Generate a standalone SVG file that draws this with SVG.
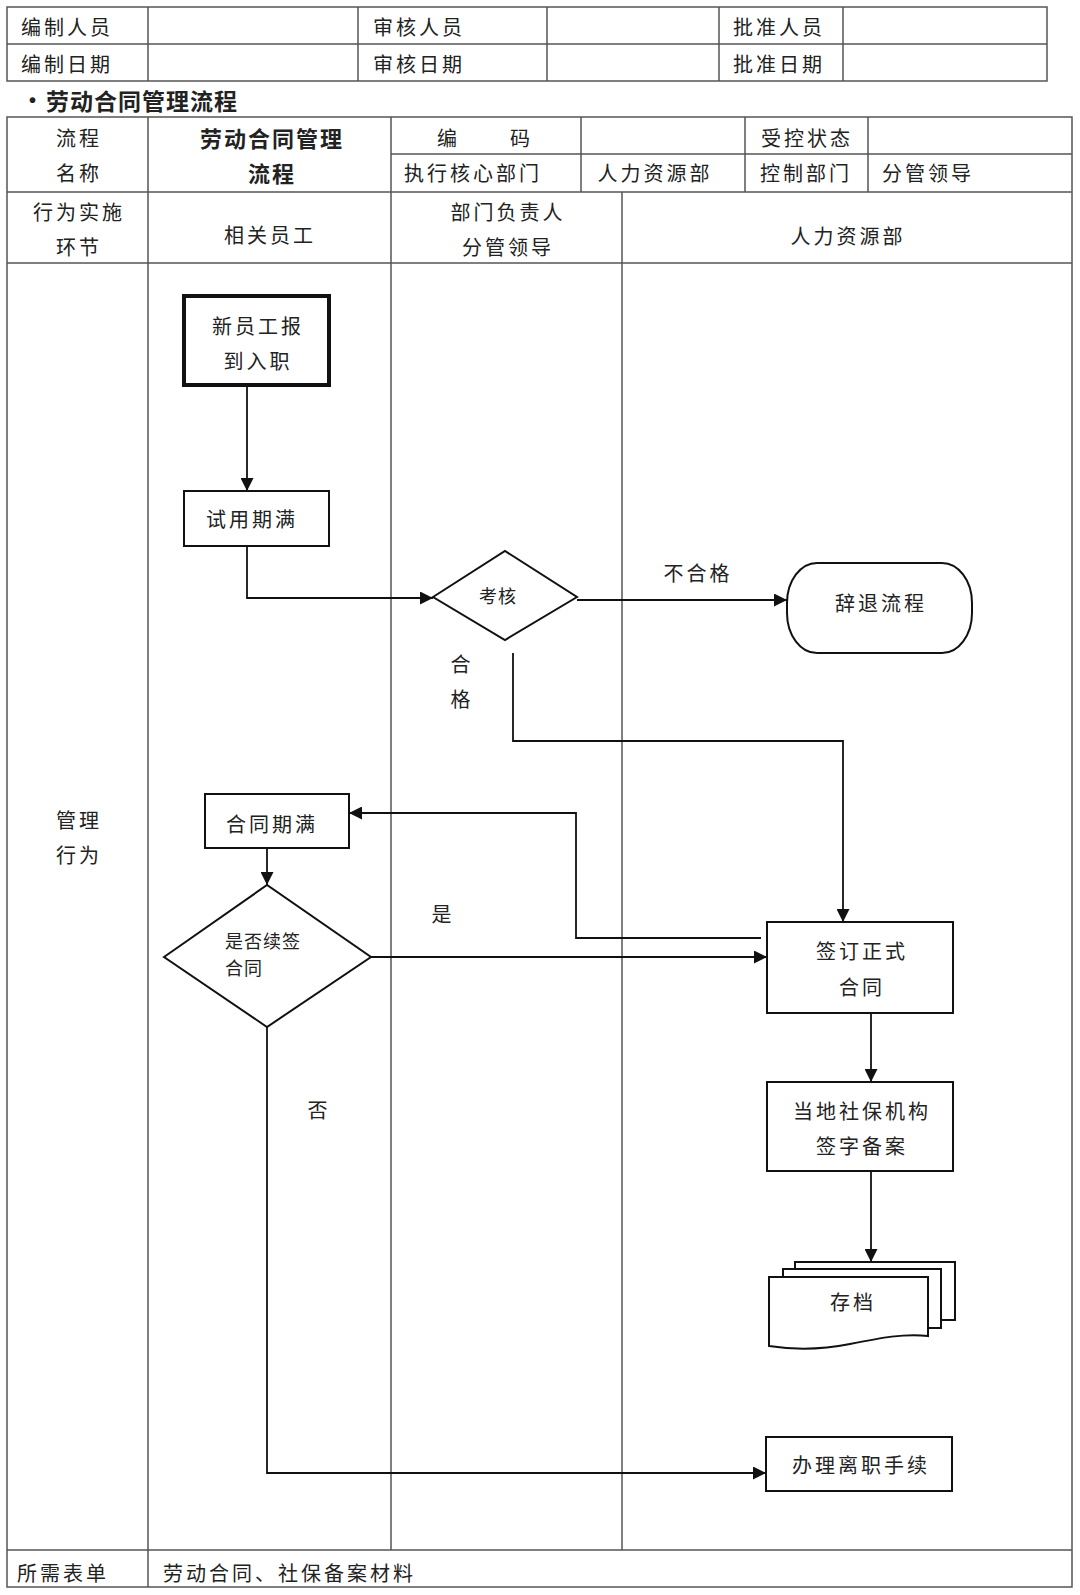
<svg xmlns="http://www.w3.org/2000/svg" width="1080" height="1595" viewBox="0 0 1080 1595">
<style>
.t{font-family:"Noto Sans CJK SC","Noto Sans CJK JP",sans-serif;font-size:20px;fill:#222;letter-spacing:3px;dominant-baseline:central}
.s{font-size:18px;letter-spacing:1px}
.c{text-anchor:middle}
.b{font-weight:bold}
.grid{stroke:#555;stroke-width:1.5;fill:none}
.box{fill:#fff;stroke:#111;stroke-width:2}
.conn{fill:none;stroke:#111;stroke-width:1.8}
</style>
<defs>
<marker id="ah" viewBox="0 0 12 12" refX="12" refY="6" markerWidth="13" markerHeight="13" markerUnits="userSpaceOnUse" orient="auto"><path d="M0,0 L12,6 L0,12 Z" fill="#111"/></marker>
</defs>
<rect width="1080" height="1595" fill="#fff"/>

<g id="top-table">
<rect class="grid" x="7" y="7" width="1040" height="74"/>
<path class="grid" d="M7,44H1047M148,7V81M358,7V81M547,7V81M719,7V81M843,7V81"/>
<text class="t" x="21" y="26">编制人员</text>
<text class="t" x="21" y="63">编制日期</text>
<text class="t" x="373" y="26">审核人员</text>
<text class="t" x="373" y="63">审核日期</text>
<text class="t" x="733" y="26">批准人员</text>
<text class="t" x="733" y="63">批准日期</text>
</g>

<g id="title">
<text x="29" y="100" style="font-family:'Liberation Sans',sans-serif;font-size:20px;font-weight:bold;fill:#222;dominant-baseline:central">•</text>
<text class="t b" x="46" y="100" style="font-size:23px;letter-spacing:1px">劳动合同管理流程</text>
</g>

<g id="main-table">
<rect class="grid" x="7" y="117" width="1065" height="1470"/>
<path class="grid" d="M391,154H1072M7,192H1072M7,263H1072M7,1550H1072M148,117V1587M391,117V1550M581,117V192M745,117V192M868,117V192M622,192V1550"/>
<text class="t c" x="79" y="137">流程</text>
<text class="t c" x="79" y="172">名称</text>
<text class="t c b" x="272" y="137" style="font-size:22px;letter-spacing:2px">劳动合同管理</text>
<text class="t c b" x="272" y="172" style="font-size:22px;letter-spacing:2px">流程</text>
<text class="t" x="437" y="137" style="letter-spacing:53px">编码</text>
<text class="t c" x="807" y="137">受控状态</text>
<text class="t" x="404" y="172">执行核心部门</text>
<text class="t c" x="655" y="172">人力资源部</text>
<text class="t c" x="806" y="172">控制部门</text>
<text class="t" x="882" y="172">分管领导</text>
<text class="t c" x="79" y="211">行为实施</text>
<text class="t c" x="79" y="246">环节</text>
<text class="t c" x="270" y="234">相关员工</text>
<text class="t c" x="508" y="211">部门负责人</text>
<text class="t c" x="508" y="246">分管领导</text>
<text class="t c" x="848" y="235">人力资源部</text>
<text class="t c" x="79" y="819">管理</text>
<text class="t c" x="79" y="854">行为</text>
<text class="t" x="17" y="1572">所需表单</text>
<text class="t" x="163" y="1572">劳动合同、社保备案材料</text>
</g>

<g id="connectors">
<path class="conn" d="M247,387V491" marker-end="url(#ah)"/>
<path class="conn" d="M247,546V598H433" marker-end="url(#ah)"/>
<path class="conn" d="M577,600H787" marker-end="url(#ah)"/>
<path class="conn" d="M513,653V741H843V922" marker-end="url(#ah)"/>
<path class="conn" d="M761,938H576V813H349" marker-end="url(#ah)"/>
<path class="conn" d="M267,848V885" marker-end="url(#ah)"/>
<path class="conn" d="M371,957H767" marker-end="url(#ah)"/>
<path class="conn" d="M871,1013V1082" marker-end="url(#ah)"/>
<path class="conn" d="M871,1171V1262" marker-end="url(#ah)"/>
<path class="conn" d="M267,1027V1473H766" marker-end="url(#ah)"/>
<text class="t c" x="698" y="572">不合格</text>
<text class="t c" x="462" y="663">合</text>
<text class="t c" x="462" y="698">格</text>
<text class="t c" x="443" y="913">是</text>
<text class="t c" x="319" y="1109">否</text>
</g>

<g id="node-start">
<rect x="184" y="296" width="145" height="89" fill="#fff" stroke="#111" stroke-width="4"/>
<text class="t c" x="258" y="325">新员工报</text>
<text class="t c" x="258" y="360">到入职</text>
</g>

<g id="node-probation">
<rect class="box" x="184" y="491" width="145" height="55"/>
<text class="t c" x="252" y="518">试用期满</text>
</g>

<g id="node-assess">
<polygon class="box" points="433,597 505,551 577,597 505,640"/>
<text class="t c s" x="498" y="595">考核</text>
</g>

<g id="node-dismiss">
<rect class="box" x="787" y="563" width="185" height="90" rx="30" ry="40"/>
<text class="t c" x="881" y="602">辞退流程</text>
</g>

<g id="node-expire">
<rect class="box" x="205" y="794" width="144" height="54"/>
<text class="t c" x="272" y="823">合同期满</text>
</g>

<g id="node-renew">
<polygon class="box" points="164,957 267,885 371,957 267,1027"/>
<text class="t s" x="225" y="940">是否续签</text>
<text class="t s" x="225" y="967">合同</text>
</g>

<g id="node-sign">
<rect class="box" x="767" y="922" width="186" height="91"/>
<text class="t c" x="862" y="950">签订正式</text>
<text class="t c" x="862" y="986">合同</text>
</g>

<g id="node-record">
<rect class="box" x="767" y="1082" width="186" height="89"/>
<text class="t c" x="862" y="1110">当地社保机构</text>
<text class="t c" x="862" y="1145">签字备案</text>
</g>

<g id="node-archive">
<rect class="box" x="795" y="1262" width="160" height="58"/>
<rect class="box" x="783" y="1269" width="158" height="59"/>
<path class="box" d="M769,1277H928V1336C905,1333 880,1338 850,1344C820,1350 795,1350 769,1346Z"/>
<text class="t c" x="853" y="1301">存档</text>
</g>

<g id="node-leave">
<rect class="box" x="766" y="1437" width="186" height="54"/>
<text class="t c" x="861" y="1464">办理离职手续</text>
</g>
</svg>
